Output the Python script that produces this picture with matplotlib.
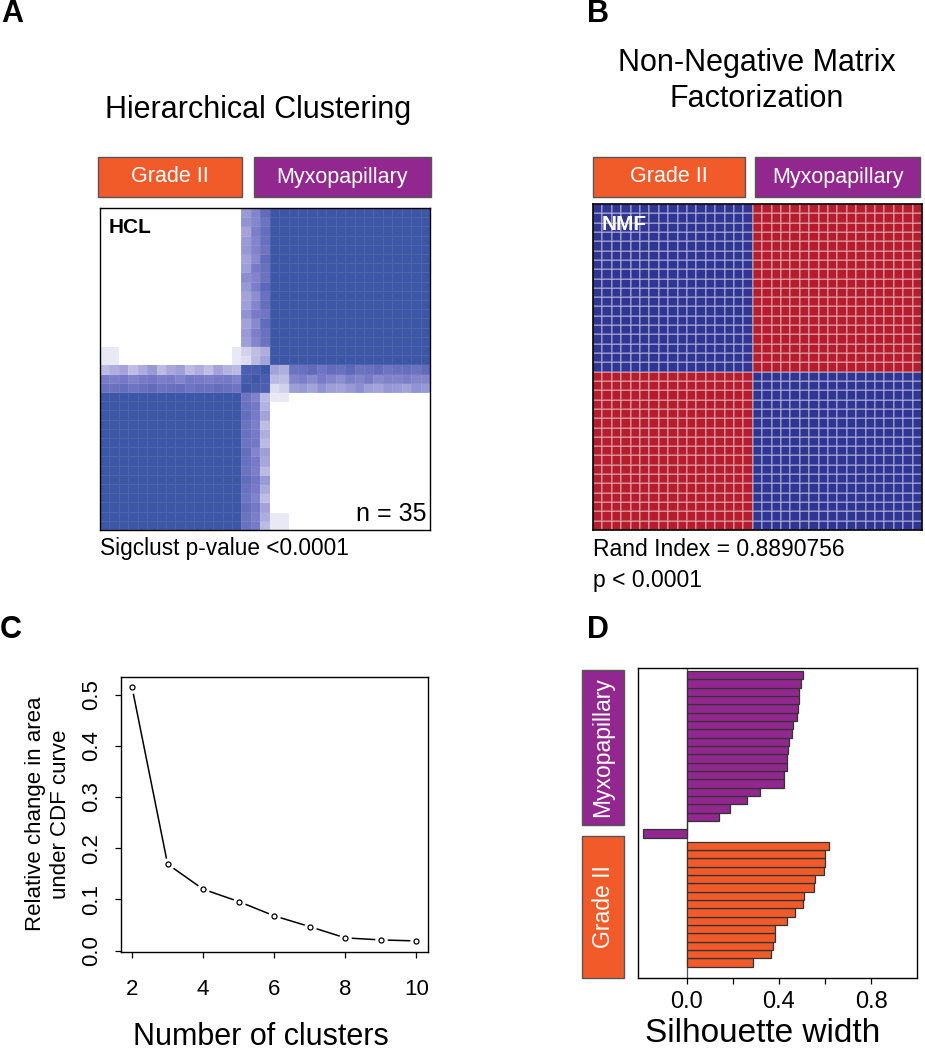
import numpy as np
import matplotlib
matplotlib.use("Agg")
import matplotlib.pyplot as plt
from matplotlib.colors import LinearSegmentedColormap, ListedColormap
from matplotlib.patches import Rectangle

plt.rcParams['font.family'] = ['Liberation Sans', 'DejaVu Sans']

# ---------------- data ----------------
# Panel A: consensus matrix (hierarchical clustering), 35 samples
n_grade_hcl = 15
n_inter_hcl = 3
n_myxo_hcl = 17
# consensus of the three intermediate samples with the Grade II samples
inter_vs_grade = [
    [0.70, 0.68, 0.72, 0.66, 0.70, 0.74, 0.68, 0.70, 0.72, 0.66, 0.70, 0.68, 0.72, 0.70, 0.66],
    [0.60, 0.58, 0.62, 0.56, 0.60, 0.64, 0.58, 0.60, 0.55, 0.62, 0.60, 0.58, 0.60, 0.62, 0.57],
    [0.30, 0.35, 0.40, 0.28, 0.36, 0.45, 0.30, 0.38, 0.42, 0.30, 0.35, 0.28, 0.40, 0.33, 0.30],
]
# consensus among the intermediate samples
inter_vs_inter = [
    [1.00, 0.92, 0.88],
    [0.92, 1.00, 0.90],
    [0.88, 0.90, 1.00],
]
# consensus of the intermediate samples with the Myxopapillary samples
inter_vs_myxo = [
    [0.15, 0.20, 0.42, 0.45, 0.40, 0.48, 0.42, 0.40, 0.45, 0.50, 0.42, 0.40, 0.46, 0.44, 0.40, 0.48, 0.45],
    [0.30, 0.28, 0.55, 0.58, 0.52, 0.60, 0.55, 0.50, 0.58, 0.55, 0.60, 0.52, 0.56, 0.55, 0.58, 0.54, 0.55],
    [0.40, 0.35, 0.68, 0.70, 0.75, 0.65, 0.72, 0.70, 0.78, 0.68, 0.70, 0.74, 0.66, 0.70, 0.72, 0.68, 0.75],
]
# weak cross-cluster consensus (myxo sample, grade sample, value)
weak_pairs = [(0, 0, 0.10), (0, 1, 0.10), (0, 14, 0.10),
              (1, 0, 0.10), (1, 1, 0.10), (1, 14, 0.10)]

# Panel B: NMF consensus
n_grade_nmf = 17
n_myxo_nmf = 18

# Panel C: relative change in area under CDF curve
k_clusters = [2, 3, 4, 5, 6, 7, 8, 9, 10]
delta_area = [0.514, 0.169, 0.120, 0.096, 0.068, 0.047, 0.025, 0.021, 0.019]

# Panel D: silhouette widths (top to bottom within each cluster)
sil_myxo = [0.506, 0.494, 0.487, 0.486, 0.481, 0.480, 0.461, 0.455, 0.445, 0.438,
            0.434, 0.434, 0.421, 0.421, 0.316, 0.262, 0.186, 0.139, 0.0, -0.188]
sil_grade = [0.618, 0.601, 0.598, 0.597, 0.558, 0.553, 0.507, 0.504, 0.468, 0.436,
             0.383, 0.384, 0.374, 0.364, 0.286]

group_labels = ["Grade II", "Myxopapillary"]
c_orange = "#F15A29"
c_purple = "#92278F"

# ---------------- figure ----------------
W, H = 925, 1050
fig = plt.figure(figsize=(W / 100, H / 100), dpi=100)


def fx(x):
    return x / W


def fy(y):
    return 1 - y / H


def ax_px(l, t, r, b):
    return fig.add_axes([fx(l), fy(b), (r - l) / W, (b - t) / H])


def box(l, t, r, b, color, text, rot=0, fs=15.5):
    fig.add_artist(Rectangle((fx(l), fy(b)), (r - l) / W, (b - t) / H,
                             transform=fig.transFigure, facecolor=color,
                             edgecolor="#555555", linewidth=1))
    fig.text(fx((l + r) / 2), fy((t + b) / 2), text, color="white", fontsize=fs,
             ha="center", va="center", rotation=rot)


# panel letters
for letter, (x, y) in zip("ABCD", [(12, 14), (598, 14), (11, 630), (598, 630)]):
    fig.text(fx(x), fy(y), letter, fontsize=22, fontweight="bold",
             ha="center", va="center")

# ---------- Panel A ----------
N = n_grade_hcl + n_inter_hcl + n_myxo_hcl
M = np.zeros((N, N))
g = slice(0, n_grade_hcl)
i_s = slice(n_grade_hcl, n_grade_hcl + n_inter_hcl)
m = slice(n_grade_hcl + n_inter_hcl, N)
M[g, g] = 1.0
M[m, m] = 1.0
M[i_s, i_s] = np.array(inter_vs_inter)
M[i_s, g] = np.array(inter_vs_grade)
M[g, i_s] = np.array(inter_vs_grade).T
M[i_s, m] = np.array(inter_vs_myxo)
M[m, i_s] = np.array(inter_vs_myxo).T
off_m = n_grade_hcl + n_inter_hcl
for mi, gi, v in weak_pairs:
    M[off_m + mi, gi] = v
    M[gi, off_m + mi] = v

cmap_a = LinearSegmentedColormap.from_list(
    "hcl", [(0.0, (1, 1, 1)), (0.1, (0.91, 0.91, 0.96)), (0.35, (0.68, 0.68, 0.87)),
            (0.6, (0.47, 0.48, 0.78)), (0.85, (0.32, 0.38, 0.70)), (1.0, (0.24, 0.34, 0.65))])

axA = ax_px(100, 208, 430, 530)
axA.pcolormesh(M, cmap=cmap_a, vmin=0, vmax=1, edgecolors=(1, 1, 1, 0.08), linewidth=0.5)
axA.set_xlim(0, N)
axA.set_ylim(0, N)
axA.set_xticks([])
axA.set_yticks([])
for s in axA.spines.values():
    s.set_linewidth(1)
axA.text(0.025, 0.97, "HCL", transform=axA.transAxes, fontsize=15, fontweight="bold",
         ha="left", va="top")
axA.text(0.988, 0.012, "n = 35", transform=axA.transAxes, fontsize=18,
         ha="right", va="bottom")

fig.text(fx(258), fy(110), "Hierarchical Clustering", fontsize=22, ha="center", va="center")
box(98, 157, 242, 197, c_orange, group_labels[0])
box(254, 157, 431, 197, c_purple, group_labels[1])
fig.text(fx(100), fy(549), "Sigclust p-value <0.0001", fontsize=16.3, ha="left", va="center")

# ---------- Panel B ----------
Nn = n_grade_nmf + n_myxo_nmf
B = np.zeros((Nn, Nn))
B[:n_grade_nmf, :n_grade_nmf] = 1
B[n_grade_nmf:, n_grade_nmf:] = 1
cmap_b = ListedColormap(["#303594", "#B51D2E"])
axB = ax_px(593, 204, 922, 530)
axB.pcolormesh(B, cmap=cmap_b, vmin=0, vmax=1, edgecolors=(1, 1, 1, 0.28), linewidth=1.4)
axB.set_xlim(0, Nn)
axB.set_ylim(0, Nn)
axB.set_xticks([])
axB.set_yticks([])
for s in axB.spines.values():
    s.set_linewidth(1.2)
axB.text(0.025, 0.965, "NMF", transform=axB.transAxes, fontsize=15, fontweight="bold",
         color="white", ha="left", va="top")

fig.text(fx(757), fy(81), "Non-Negative Matrix\nFactorization", fontsize=22,
         ha="center", va="center", linespacing=1.3)
box(593, 157, 745, 197, c_orange, group_labels[0])
box(755, 157, 920, 197, c_purple, group_labels[1])
fig.text(fx(593), fy(549), "Rand Index = 0.8890756", fontsize=16.5, ha="left", va="center")
fig.text(fx(593), fy(580), "p < 0.0001", fontsize=16.5, ha="left", va="center")

# ---------- Panel C ----------
axC = ax_px(120.7, 676.7, 427.7, 951.7)
axC.plot(k_clusters, delta_area, color="black", lw=1.1, zorder=2)
axC.plot(k_clusters, delta_area, ls="none", marker="o", ms=8, mfc="white", mec="white", zorder=3)
axC.plot(k_clusters, delta_area, ls="none", marker="o", ms=3.6, mfc="none", mec="black",
         mew=0.9, zorder=4)
axC.set_xlim(1.68, 10.32)
axC.set_ylim(-0.002, 0.535)
axC.set_xticks([2, 4, 6, 8, 10])
axC.set_yticks([0.0, 0.1, 0.2, 0.3, 0.4, 0.5])
axC.set_yticklabels(["0.0", "0.1", "0.2", "0.3", "0.4", "0.5"], rotation=90, va="center")
axC.tick_params(axis="x", labelsize=16, length=4.5, width=0.9, pad=15)
axC.tick_params(axis="y", labelsize=16, length=4.5, width=0.9, pad=9)
for s in axC.spines.values():
    s.set_linewidth(1)
axC.set_ylabel("Relative change in area\nunder CDF curve", fontsize=16, labelpad=7,
               linespacing=1.25)
fig.text(fx(261), fy(1037), "Number of clusters", fontsize=22, ha="center", va="center")

# ---------- Panel D ----------
axD = ax_px(638.3, 667.7, 917.3, 978.3)
grade_bottom_up = sil_grade[::-1]
myxo_bottom_up = sil_myxo[::-1]
y_grade = np.arange(len(grade_bottom_up)) + 0.5
y_myxo = len(grade_bottom_up) + 0.5 + np.arange(len(myxo_bottom_up)) + 0.5
axD.axvline(0, color="#555555", lw=0.9, zorder=1)
axD.barh(y_grade, grade_bottom_up, height=1.0, color=c_orange, edgecolor="#333333",
         linewidth=0.9, zorder=2)
axD.barh(y_myxo, myxo_bottom_up, height=1.0, color=c_purple, edgecolor="#333333",
         linewidth=0.9, zorder=2)
axD.set_xlim(-0.21, 1.0)
axD.set_ylim(-1.4, len(grade_bottom_up) + 0.5 + len(myxo_bottom_up) + 0.4)
axD.set_yticks([])
axD.set_xticks([0.0, 0.2, 0.4, 0.6, 0.8])
axD.set_xticklabels(["0.0", "", "0.4", "", "0.8"])
axD.tick_params(axis="x", labelsize=17, length=4.5, width=0.9, pad=5)
for s in axD.spines.values():
    s.set_linewidth(1)
fig.text(fx(763), fy(1034), "Silhouette width", fontsize=24, ha="center", va="center")

box(582, 670, 624, 825, c_purple, group_labels[1], rot=90, fs=16.5)
box(582, 836, 624, 978, c_orange, group_labels[0], rot=90, fs=16.5)

fig.savefig("out.png", dpi=100)
